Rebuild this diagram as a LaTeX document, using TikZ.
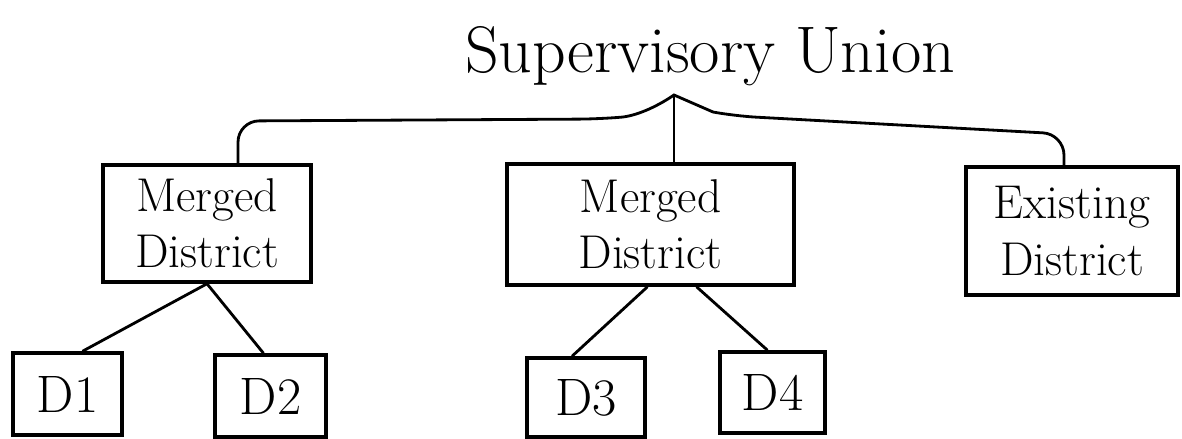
\documentclass[tikz,border=0pt]{standalone}
\usetikzlibrary{calc}
\begin{document}
\begin{tikzpicture}[x=0.02cm,y=-0.02cm,
  box/.style={draw, line width=2pt, inner sep=0pt, align=center, font=\fontsize{27}{32}\selectfont},
  dbox/.style={draw, line width=2pt, inner sep=0pt, font=\fontsize{30}{34}\selectfont},
  link/.style={line width=1.6pt}]
\useasboundingbox (0,0) rectangle (1182,439);
\node[anchor=base, font=\fontsize{37.5}{42}\selectfont] (title) at (710,72) {Supervisory Union};
\node[box, minimum width=4.16cm, minimum height=2.34cm] (m1) at (207,223.5) {Merged\\District};
\node[box, minimum width=5.74cm, minimum height=2.42cm] (m2) at (650.5,224.5) {Merged\\District};
\node[box, minimum width=4.24cm, minimum height=2.56cm] (ex) at (1072,231) {Existing\\District};
\node[dbox, minimum width=2.18cm, minimum height=1.64cm] (d1) at (67.5,394) {D1};
\node[dbox, minimum width=2.22cm, minimum height=1.64cm] (d2) at (270.5,396) {D2};
\node[dbox, minimum width=2.36cm, minimum height=1.58cm] (d3) at (586,397.5) {D3};
\node[dbox, minimum width=2.1cm, minimum height=1.62cm] (d4) at (772.5,392.5) {D4};
\coordinate (lt) at (238,121);
\coordinate (rt) at (1064,134);
\coordinate (peak) at (674,95);
\draw[link, rounded corners=12pt] (m1.north -| lt) -- (lt) -- (600,119)
  [sharp corners] .. controls (635,116) and (655,108) .. (peak)
  -- (713,112) [rounded corners=12pt] -- (735,116) -- (rt) -- (ex.north -| rt);
\draw[link] (peak) -- (m2.north -| peak);
\draw[link] (m1.south) -- ($(d1.north)+(15,0)$);
\draw[link] (m1.south) -- ($(d2.north)+(-7,0)$);
\draw[link] ($(m2.south)+(-3,0)$) -- ($(d3.north)+(-14,0)$);
\draw[link] ($(m2.south)+(46,0)$) -- ($(d4.north)+(-5,0)$);
\end{tikzpicture}
\end{document}
